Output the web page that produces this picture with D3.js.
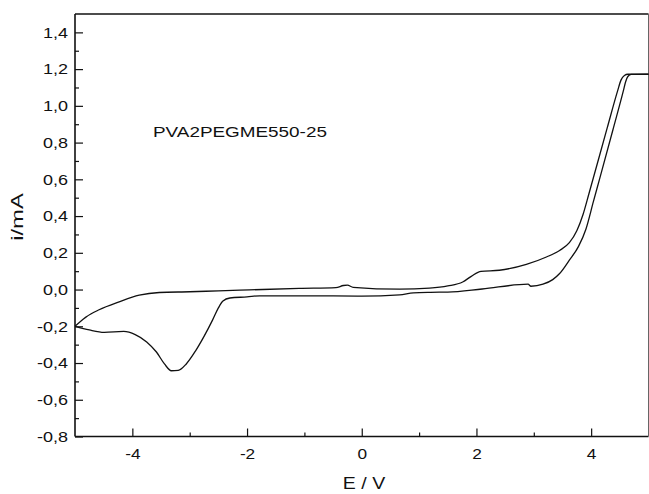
<!DOCTYPE html>
<html>
<head>
<meta charset="utf-8">
<script src="https://cdn.jsdelivr.net/npm/d3@7"></script>
<style>
  body { margin: 0; background: #fff; }
  text { font-family: "Liberation Sans", Arial, sans-serif; fill: #111; }
</style>
</head>
<body>
<svg id="chart" width="649" height="494"></svg>
<script>
// forward scan (upper branch), E / V and i / mA
const upperE = [-5, -4.9, -4.81, -4.58, -4.23, -3.88, -3.53, -3.0, -2.5, -1.96, -1.09, -0.45, -0.32, -0.25, -0.15, 0.66, 1.18, 1.5, 1.76, 1.91, 2.08, 2.4, 2.87, 3.22, 3.45, 3.62, 3.75, 3.86, 3.96, 4.28, 4.46, 4.52, 4.58, 4.64, 5.0];
const upperI = [-0.2, -0.172, -0.15, -0.11, -0.067, -0.031, -0.016, -0.012, -0.007, -0.002, 0.006, 0.01, 0.022, 0.024, 0.012, 0.002, 0.008, 0.02, 0.041, 0.072, 0.099, 0.105, 0.137, 0.177, 0.213, 0.255, 0.32, 0.41, 0.52, 0.88, 1.08, 1.14, 1.165, 1.172, 1.172];

// reverse scan (lower branch with the cathodic peak)
const lowerE = [-5, -4.75, -4.49, -4.15, -3.95, -3.75, -3.58, -3.44, -3.32, -3.2, -3.06, -2.9, -2.75, -2.6, -2.5, -2.42, -2.3, -2.0, -1.78, -1.0, 0, 0.66, 0.9, 1.2, 1.5, 2.1, 2.9, 2.95, 3.16, 3.33, 3.45, 3.62, 3.78, 3.91, 4.04, 4.15, 4.38, 4.56, 4.6, 4.64, 4.7, 5.0];
const lowerI = [-0.2, -0.22, -0.233, -0.228, -0.245, -0.285, -0.34, -0.405, -0.442, -0.44, -0.405, -0.335, -0.255, -0.165, -0.1, -0.062, -0.046, -0.04, -0.034, -0.034, -0.036, -0.029, -0.018, -0.015, -0.014, 0.003, 0.029, 0.018, 0.029, 0.054, 0.087, 0.16, 0.235, 0.33, 0.48, 0.605, 0.87, 1.08, 1.13, 1.16, 1.171, 1.172];

const eTicks = [-4, -2, 0, 2, 4];
const eMinor = [-3, -1, 1, 3];
const iTicks = [-0.8, -0.6, -0.4, -0.2, 0.0, 0.2, 0.4, 0.6, 0.8, 1.0, 1.2, 1.4];
const iMinor = [-0.7, -0.5, -0.3, -0.1, 0.1, 0.3, 0.5, 0.7, 0.9, 1.1, 1.3];

const sampleName = "PVA2PEGME550-25";

const plotLeft = 75, plotRight = 648.5, plotTop = 14, plotBottom = 436.5;

const svg = d3.select("#chart");

const x = d3.scaleLinear().domain([-5, 5]).range([plotLeft, plotRight]);
const y = d3.scaleLinear().domain([-0.8, 1.5]).range([plotBottom, plotTop]);

const locale = d3.formatLocale({ decimal: ",", thousands: ".", grouping: [3], currency: ["", ""], minus: "-" });
const fmt = locale.format(".1f");

// minor ticks first
svg.append("g")
    .attr("transform", `translate(0,${plotBottom})`)
    .call(d3.axisBottom(x).tickValues(eMinor).tickSize(-4).tickFormat(""))
    .call(g => g.select(".domain").remove())
    .call(g => g.selectAll("line").attr("stroke", "#111").attr("stroke-width", 1.2));

svg.append("g")
    .attr("transform", `translate(${plotLeft},0)`)
    .call(d3.axisLeft(y).tickValues(iMinor).tickSize(-4).tickFormat(""))
    .call(g => g.select(".domain").remove())
    .call(g => g.selectAll("line").attr("stroke", "#111").attr("stroke-width", 1.2));

// major x axis
const xAxis = svg.append("g")
    .attr("transform", `translate(0,${plotBottom})`)
    .call(d3.axisBottom(x).tickValues(eTicks).tickSizeInner(-8).tickSizeOuter(0).tickPadding(12).tickFormat(d => String(d)))
    .call(g => g.select(".domain").remove());
xAxis.selectAll("line").attr("stroke", "#111").attr("stroke-width", 1.2);
xAxis.selectAll("text")
    .attr("font-size", 15)
    .attr("font-family", "Liberation Sans, Arial, sans-serif")
    .attr("fill", "#111")
    .attr("transform", "scale(1.15,1)");

// major y axis
const yAxis = svg.append("g")
    .attr("transform", `translate(${plotLeft},0)`)
    .call(d3.axisLeft(y).tickValues(iTicks).tickSizeInner(-8).tickSizeOuter(0).tickPadding(7).tickFormat(fmt))
    .call(g => g.select(".domain").remove());
yAxis.selectAll("line").attr("stroke", "#111").attr("stroke-width", 1.2);
yAxis.selectAll("text")
    .attr("font-size", 15)
    .attr("font-family", "Liberation Sans, Arial, sans-serif")
    .attr("fill", "#111")
    .attr("x", -7 / 1.2)
    .attr("transform", "scale(1.2,1)");

// frame
svg.append("line").attr("x1", plotLeft).attr("x2", plotLeft).attr("y1", plotTop).attr("y2", plotBottom)
    .attr("stroke", "#111").attr("stroke-width", 1.6);
svg.append("line").attr("x1", plotLeft).attr("x2", plotRight).attr("y1", plotBottom).attr("y2", plotBottom)
    .attr("stroke", "#111").attr("stroke-width", 1.6);
svg.append("line").attr("x1", plotLeft).attr("x2", plotRight).attr("y1", plotTop).attr("y2", plotTop)
    .attr("stroke", "#111").attr("stroke-width", 1.6);
svg.append("line").attr("x1", plotRight).attr("x2", plotRight).attr("y1", plotTop).attr("y2", plotBottom)
    .attr("stroke", "#666").attr("stroke-width", 1);

// curves
const line = d3.line()
    .x(d => x(d[0]))
    .y(d => y(d[1]))
    .curve(d3.curveMonotoneX);

const branches = [
    d3.zip(upperE, upperI),
    d3.zip(lowerE, lowerI)
];

svg.append("g")
    .selectAll("path")
    .data(branches)
    .join("path")
    .attr("d", line)
    .attr("fill", "none")
    .attr("stroke", "#111")
    .attr("stroke-width", 1.3)
    .attr("stroke-linejoin", "round");

// labels
svg.append("text")
    .attr("transform", "translate(153,137) scale(1.22,1)")
    .attr("font-size", 15.5)
    .text(sampleName);

svg.append("text")
    .attr("transform", "translate(364,489) scale(1.15,1)")
    .attr("text-anchor", "middle")
    .attr("font-size", 17)
    .text("E / V");

svg.append("text")
    .attr("transform", "translate(23,217) rotate(-90) scale(1.4,1)")
    .attr("text-anchor", "middle")
    .attr("font-size", 17)
    .text("i/mA");
</script>
</body>
</html>
